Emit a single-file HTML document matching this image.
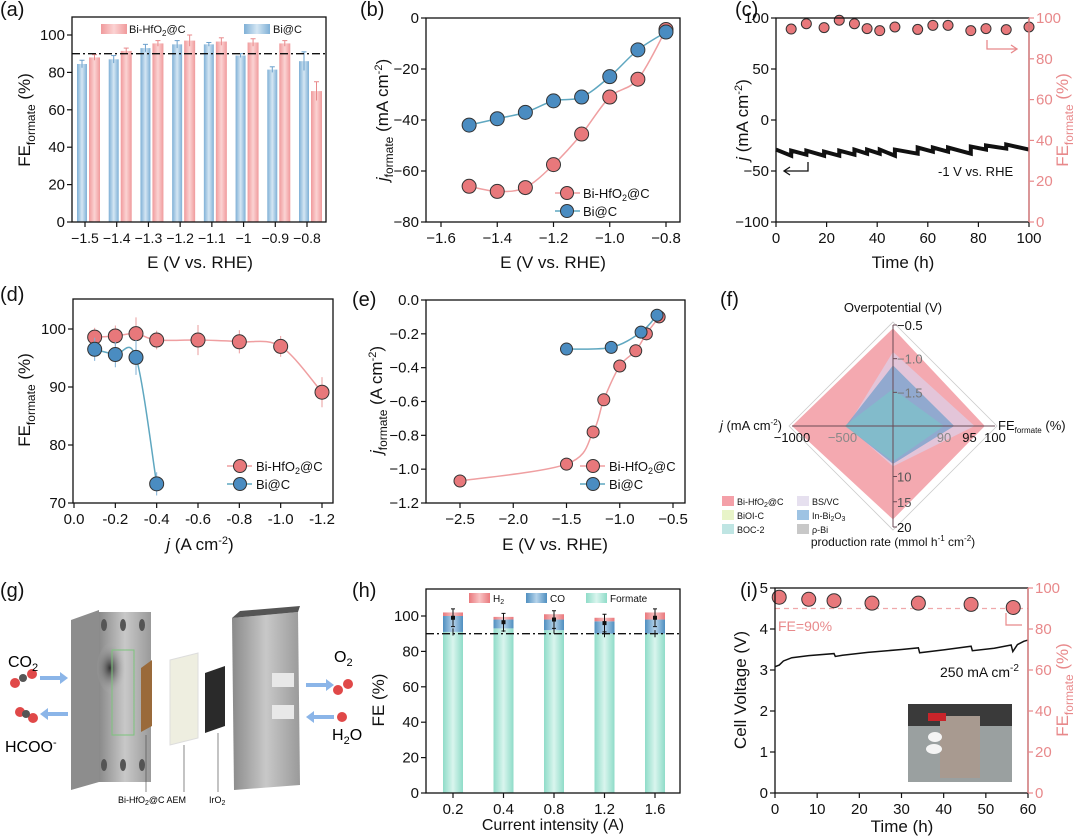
<!DOCTYPE html>
<html><head><meta charset="utf-8"><style>
html,body{margin:0;padding:0;background:#fff;}
svg{display:block;font-family:"Liberation Sans",Arial,sans-serif;}
</style></head><body>
<svg id="fig" width="1080" height="840" viewBox="0 0 1080 840" xmlns="http://www.w3.org/2000/svg">
<defs>
<linearGradient id="gp" x1="0" x2="1"><stop offset="0" stop-color="#f09a9c"/><stop offset="0.5" stop-color="#fbd3d3"/><stop offset="1" stop-color="#f09a9c"/></linearGradient>
<linearGradient id="gb" x1="0" x2="1"><stop offset="0" stop-color="#7fb0d6"/><stop offset="0.5" stop-color="#d4e6f3"/><stop offset="1" stop-color="#7fb0d6"/></linearGradient>
<linearGradient id="gt" x1="0" x2="1"><stop offset="0" stop-color="#8fdcc8"/><stop offset="0.5" stop-color="#d9f5ee"/><stop offset="1" stop-color="#8fdcc8"/></linearGradient>
<linearGradient id="gco" x1="0" x2="1"><stop offset="0" stop-color="#4f8fc0"/><stop offset="0.5" stop-color="#b5d3ea"/><stop offset="1" stop-color="#4f8fc0"/></linearGradient>
<linearGradient id="gh2" x1="0" x2="1"><stop offset="0" stop-color="#e9787c"/><stop offset="0.5" stop-color="#f8c3c4"/><stop offset="1" stop-color="#e9787c"/></linearGradient>
<linearGradient id="plate" x1="0" x2="1"><stop offset="0" stop-color="#8a8a8a"/><stop offset="0.5" stop-color="#c8c8c8"/><stop offset="1" stop-color="#9a9a9a"/></linearGradient>
<radialGradient id="dark" cx="0.4" cy="0.5" r="0.5"><stop offset="0" stop-color="#333"/><stop offset="1" stop-color="#bbb" stop-opacity="0"/></radialGradient>
</defs>

<g>
<polygon points="71,620 99,610 99,782 71,790" fill="#8d8d8d"/>
<rect x="99" y="612" width="52" height="170" fill="url(#plate)"/>
<ellipse cx="113" cy="668" rx="16" ry="26" fill="url(#dark)"/>
<rect x="112" y="650" width="22" height="85" fill="none" stroke="#7cc47c" stroke-width="1"/>
<g fill="#555"><ellipse cx="104" cy="625" rx="3" ry="6"/><ellipse cx="123" cy="625" rx="3" ry="6"/><ellipse cx="142" cy="625" rx="3" ry="6"/><ellipse cx="104" cy="765" rx="3" ry="6"/><ellipse cx="123" cy="765" rx="3" ry="6"/><ellipse cx="142" cy="765" rx="3" ry="6"/></g>
<polygon points="141,668 152,660 152,726 141,732" fill="#9a6a3a"/>
<polygon points="170,660 198,653 198,738 170,745" fill="#eeeee0" stroke="#ddd"/>
<polygon points="205,673 225,666 225,726 205,733" fill="#2a2a2a"/>
<polygon points="232,618 298,612 300,785 234,790" fill="url(#plate)"/>
<polygon points="232,618 240,611 300,606 298,612" fill="#555"/>
<rect x="272" y="673" width="22" height="14" fill="#e8e8e8"/><rect x="272" y="705" width="22" height="14" fill="#e8e8e8"/>
<g fill="#e04848"><circle cx="15" cy="683" r="5"/><circle cx="32" cy="674" r="5"/><circle cx="20" cy="712" r="5"/><circle cx="33" cy="718" r="5"/><circle cx="338" cy="690" r="5"/><circle cx="348" cy="684" r="5"/><circle cx="342" cy="717" r="5"/></g>
<g fill="#555"><circle cx="23" cy="678" r="4"/><circle cx="26" cy="714" r="4"/></g>
<g fill="#8bb5e8"><polygon points="40,676 60,676 60,672 68,678 60,684 60,680 40,680"/><polygon points="68,712 48,712 48,708 40,714 48,720 48,716 68,716"/><polygon points="306,683 326,683 326,679 334,685 326,691 326,687 306,687"/><polygon points="334,715 314,715 314,711 306,717 314,723 314,719 334,719"/></g>
<line x1="146" y1="735" x2="146" y2="792" stroke="#555" stroke-width="0.7"/><line x1="184" y1="745" x2="184" y2="792" stroke="#555" stroke-width="0.7"/><line x1="218" y1="733" x2="218" y2="792" stroke="#555" stroke-width="0.7"/>
<text x="8" y="667" font-size="16">CO<tspan font-size="11" dy="4">2</tspan></text>
<text x="5" y="752" font-size="16">HCOO<tspan font-size="11" dy="-6">-</tspan></text>
<text x="334" y="662" font-size="16">O<tspan font-size="11" dy="4">2</tspan></text>
<text x="332" y="740" font-size="16">H<tspan font-size="11" dy="4">2</tspan><tspan dy="-4">O</tspan></text>
<text x="118" y="803" font-size="9">Bi-HfO<tspan font-size="7" dy="2">2</tspan><tspan dy="-2">@C AEM</tspan></text>
<text x="209" y="803" font-size="9">IrO<tspan font-size="7" dy="2">2</tspan></text>
</g>
<g>
<rect x="908" y="704" width="104" height="78" fill="#9aa0a0"/>
<rect x="908" y="704" width="104" height="22" fill="#3a3a3a"/>
<rect x="940" y="716" width="40" height="62" fill="#a89a90"/>
<rect x="928" y="713" width="18" height="8" fill="#c8242a"/>
<ellipse cx="935" cy="737" rx="7" ry="5" fill="#f4f4f4"/><ellipse cx="934" cy="749" rx="8" ry="5" fill="#f4f4f4"/>
</g>
</svg>
<script>
const NS="http://www.w3.org/2000/svg";
const svg=document.getElementById('fig');
function mk(tag,attrs,parent){const e=document.createElementNS(NS,tag);for(const k in attrs)e.setAttribute(k,attrs[k]);(parent||svg).appendChild(e);return e;}
function lin(d0,d1,p0,p1){return v=>p0+(v-d0)*(p1-p0)/(d1-d0);}
function txt(x,y,s,size,anchor,parent,fill){const t=mk('text',{x:x,y:y,'font-size':size||15,'text-anchor':anchor||'middle',fill:fill||'#111'},parent);t.innerHTML=s;return t;}
function smooth(pts){let d='M'+pts[0][0]+','+pts[0][1];for(let i=0;i<pts.length-1;i++){const p0=pts[i-1]||pts[i],p1=pts[i],p2=pts[i+1],p3=pts[i+2]||p2;const c1=[p1[0]+(p2[0]-p0[0])/6,p1[1]+(p2[1]-p0[1])/6],c2=[p2[0]-(p3[0]-p1[0])/6,p2[1]-(p3[1]-p1[1])/6];d+=' C'+c1+' '+c2+' '+p2;}return d;}
function frame(g,b){const r=mk('rect',{x:b.x0,y:b.y0,width:b.x1-b.x0,height:b.y1-b.y0,fill:'none',stroke:'#111','stroke-width':1.3},g);}
function xTicks(g,b,vals,labels,sx,size){vals.forEach((v,i)=>{const X=sx(v);mk('line',{x1:X,x2:X,y1:b.y1,y2:b.y1+5,stroke:'#111','stroke-width':1.2},g);const t=txt(X,b.y1+21,labels[i],size||15,'middle',g);});}
function yTicks(g,b,vals,labels,sy,right,col,size){vals.forEach((v,i)=>{const Y=sy(v);const X=right?b.x1:b.x0;mk('line',{x1:X,x2:right?X+5:X-5,y1:Y,y2:Y,stroke:col||'#111','stroke-width':1.2},g);const t=txt(right?X+7:X-7,Y+5,labels[i],size||15,right?'start':'end',g,col);});}
function vtitle(g,x,y,html,col,size){const t=mk('text',{x:0,y:0,'font-size':size||17,'text-anchor':'middle',fill:col||'#111',transform:'translate('+x+','+y+') rotate(-90)'},g);t.innerHTML=html;return t;}
function dot(g,x,y,fill,r){const c=mk('circle',{cx:x,cy:y,r:r||7,fill:fill,stroke:'#333','stroke-width':1},g);return c;}
const PINK='#e8787b',BLUE='#4a8cc1',PL='#ef9fa1',BL='#5fa7c0',RA='#e8898b';
const FEsub='FE<tspan font-size="12" dy="5">formate</tspan><tspan dy="-5"> (%)</tspan>';
function label(s,x,y){const t=txt(x,y,s,20,'start');}

const aCats=['−1.5','−1.4','−1.3','−1.2','−1.1','−1','−0.9','−0.8'];
const aBi=[84.5,87,93,95,95,89,81.5,86];
const aBiErr=[2,2,2,2,1,1,1.5,5];
const aHf=[88,91.5,95.5,97,96.5,96,95.5,70];
const aHfErr=[1.5,1.5,1.5,3,2,2,1.5,5];
const aYt=[0,20,40,60,80,100];
const bE=[-1.5,-1.4,-1.3,-1.2,-1.1,-1.0,-0.9,-0.8];
const bHf=[-66,-68,-66.5,-57.5,-45.5,-31,-24,-4.5];
const bBi=[-42,-39.5,-37,-32.5,-31,-23,-12.5,-5.5];
const bXt=[-1.6,-1.4,-1.2,-1.0,-0.8];const bXl=['−1.6','−1.4','−1.2','−1.0','−0.8'];
const bYt=[0,-20,-40,-60,-80];const bYl=['0','−20','−40','−60','−80'];
const cFEt=[6,12,19,25,31,36,41,47,56,62,68,77,83,91,100];
const cFE=[94.6,97.2,95.3,98.9,97.2,94.8,93.8,95.6,94.4,96.4,96.4,93.8,94.8,94.3,95.6];
const cSegT=[0,6,12,19,25,31,36,41,47,56,62,68,77,83,91,100];
const cSegStart=[-29,-30,-30,-31,-30,-29,-29,-29,-29,-27,-27,-27,-26,-25,-24];
const cSegEnd=[-35,-34,-35,-35,-34,-33,-33,-35,-33,-31,-31,-33,-29,-28,-29];
const dJHf=[0.1,0.2,0.3,0.4,0.6,0.8,1.0,1.2];
const dHf=[98.6,98.8,99.2,98.1,98.1,97.8,97,89.1];
const dHfErr=[1.6,1.8,2.8,1.6,2.6,2,1.8,2.6];
const dJBi=[0.1,0.2,0.3,0.4];
const dBi=[96.5,95.6,95.1,73.3];
const dBiErr=[2,2.2,3,2];
const eEHf=[-2.5,-1.5,-1.25,-1.15,-1.0,-0.85,-0.75,-0.63];
const eHf=[-1.07,-0.97,-0.78,-0.59,-0.39,-0.30,-0.20,-0.10];
const eEBi=[-1.5,-1.08,-0.8,-0.65];
const eBi=[-0.29,-0.28,-0.19,-0.09];
const fSeries=['Bi-HfO2@C','BS/VC','In-Bi2O3','BOC-2'];
const fOver=[-0.55,-0.9,-1.1,-1.45];
const fFE=[98,96,92,90];
const fRate=[18.5,8,7.5,7];
const fJ=[-1000,-450,-470,-480];
const hCats=['0.2','0.4','0.8','1.2','1.6'];
const hFormate=[91,93,92,90,90];
const hCO=[9,5,6,7,8];
const hH2=[2,1.5,3,2,4];
const iT=[0,1,2,4,8,14,14.3,16,22,30,34,34.3,40,46.5,46.8,52,56,56.4,57.5,59,60];
const iV=[3.08,3.12,3.22,3.3,3.35,3.4,3.33,3.36,3.43,3.5,3.54,3.42,3.49,3.58,3.47,3.53,3.61,3.45,3.62,3.7,3.73];
const iFEt=[1,8,14,23,34,46.5,56.5];
const iFE=[95.5,94.5,93.8,92.6,92.6,92,90.5];

// Panel a
(function(){
const g=mk('g',{});
const b={x0:72,x1:326,y0:17,y1:222};
const sy=lin(0,100,222,35);const sx=i=>88+i*(310-88)/7;
label('(a)',0,16);
aCats.forEach((c,i)=>{
 const X=sx(i);
 const r1=mk('rect',{x:X-11,y:sy(aBi[i]),width:10,height:sy(0)-sy(aBi[i]),fill:'url(#gb)'},g);
 
 mk('line',{x1:X-6,x2:X-6,y1:sy(aBi[i]+aBiErr[i]),y2:sy(aBi[i]-aBiErr[i]),stroke:'#6ba0cc','stroke-width':1},g);
 mk('line',{x1:X-8.5,x2:X-3.5,y1:sy(aBi[i]+aBiErr[i]),y2:sy(aBi[i]+aBiErr[i]),stroke:'#6ba0cc'},g);
 const r2=mk('rect',{x:X+1,y:sy(aHf[i]),width:11,height:sy(0)-sy(aHf[i]),fill:'url(#gp)'},g);
 
 mk('line',{x1:X+6.5,x2:X+6.5,y1:sy(aHf[i]+aHfErr[i]),y2:sy(aHf[i]-aHfErr[i]),stroke:'#e8898b','stroke-width':1},g);
 mk('line',{x1:X+4,x2:X+9,y1:sy(aHf[i]+aHfErr[i]),y2:sy(aHf[i]+aHfErr[i]),stroke:'#e8898b'},g);
});
const l=mk('line',{x1:b.x0,x2:b.x1,y1:sy(90),y2:sy(90),stroke:'#111','stroke-width':1.3,'stroke-dasharray':'8,3,2,3'},g);

frame(g,b);
xTicks(g,b,aCats.map((c,i)=>i),aCats,i=>sx(i)-3,14);
yTicks(g,b,aYt,aYt.map(String),sy);
vtitle(g,30,120,FEsub);
const xt=txt(200,268,'E (V vs. RHE)',17);
const lg1=mk('rect',{x:101,y:24,width:26,height:10,fill:'url(#gp)'},g);
const lt1=txt(129,33,'Bi-HfO<tspan font-size="8" dy="3">2</tspan><tspan dy="-3">@C</tspan>',11,'start',g);
const lg2=mk('rect',{x:244,y:24,width:26,height:10,fill:'url(#gb)'},g);
const lt2=txt(273,33,'Bi@C',11,'start',g);
})();

// Panel b
(function(){
const g=mk('g',{});
const b={x0:426,x1:680,y0:18,y1:222};
const sx=lin(-1.6,-0.8,441,666),sy=lin(0,-80,18,222);
label('(b)',360,16);
const ph=mk('path',{d:smooth(bE.map((e,i)=>[sx(e),sy(bHf[i])])),fill:'none',stroke:PL,'stroke-width':1.5},g);
const pb=mk('path',{d:smooth(bE.map((e,i)=>[sx(e),sy(bBi[i])])),fill:'none',stroke:BL,'stroke-width':1.5},g);
bE.forEach((e,i)=>{const c=dot(g,sx(e),sy(bHf[i]),PINK);
 const d=dot(g,sx(e),sy(bBi[i]),BLUE);});
frame(g,b);xTicks(g,b,bXt,bXl,sx);yTicks(g,b,bYt,bYl,sy);
vtitle(g,388,120,'<tspan font-style="italic">j</tspan><tspan font-size="12" dy="5">formate</tspan><tspan dy="-5"> (mA cm</tspan><tspan font-size="11" dy="-6">-2</tspan><tspan dy="6">)</tspan>');
const xt=txt(553,268,'E (V vs. RHE)',17);
mk('line',{x1:555,x2:580,y1:193,y2:193,stroke:PL,'stroke-width':1.5},g);const l1=dot(g,567,193,PINK,6.5);
const t1=txt(583,198,'Bi-HfO<tspan font-size="9" dy="3">2</tspan><tspan dy="-3">@C</tspan>',13,'start',g);
mk('line',{x1:555,x2:580,y1:211,y2:211,stroke:BL,'stroke-width':1.5},g);const l2=dot(g,567,211,BLUE,6.5);
const t2=txt(583,216,'Bi@C',13,'start',g);
})();

// Panel c
(function(){
const g=mk('g',{});
const b={x0:776,x1:1029,y0:18,y1:222};
const sx=lin(0,100,776,1029),sl=lin(-100,100,222,18),sr=lin(0,100,222,18);
label('(c)',735,16);
let d='';
cSegStart.forEach((s,i)=>{const t0=cSegT[i],t1=cSegT[i+1];d+=(i?' L':'M')+sx(t0)+','+sl(s)+' L'+sx(t1)+','+sl(cSegEnd[i]);});
const p=mk('path',{d:d,fill:'none',stroke:'#111','stroke-width':4,'stroke-linejoin':'miter'},g);
cFEt.forEach((t,i)=>{const c=dot(g,sx(t),sr(cFE[i]),PINK,5);});
frame(g,b);
mk('line',{x1:b.x1,x2:b.x1,y1:b.y0,y2:b.y1,stroke:RA,'stroke-width':1.4},g);
xTicks(g,b,[0,20,40,60,80,100],['0','20','40','60','80','100'],sx);
yTicks(g,b,[100,50,0,-50,-100],['100','50','0','−50','−100'],sl);
yTicks(g,b,[0,20,40,60,80,100],['0','20','40','60','80','100'],sr,true,RA);
vtitle(g,748,120,'<tspan font-style="italic">j</tspan> (mA cm<tspan font-size="11" dy="-6">-2</tspan><tspan dy="6">)</tspan>');
vtitle(g,1068,120,FEsub,RA);
const xt=txt(903,268,'Time (h)',17);
const an=txt(938,176,'-1 V vs. RHE',13,'start',g);
mk('path',{d:'M808,162 L808,171 L784,171 M790,167 L784,171 L790,175',fill:'none',stroke:'#111','stroke-width':1.3},g);
mk('path',{d:'M987,40 L987,49 L1017,49 M1011,45 L1017,49 L1011,53',fill:'none',stroke:RA,'stroke-width':1.3},g);
})();

// Panel d
(function(){
const g=mk('g',{});
const b={x0:73,x1:333,y0:299,y1:503};
const sx=lin(0,1.2,74,322),sy=lin(100,70,329,503);
label('(d)',0,301);
const ph=mk('path',{d:smooth(dJHf.map((j,i)=>[sx(j),sy(dHf[i])])),fill:'none',stroke:PL,'stroke-width':1.5},g);
const pb=mk('path',{d:smooth(dJBi.map((j,i)=>[sx(j),sy(dBi[i])])),fill:'none',stroke:BL,'stroke-width':1.5},g);
dJHf.forEach((j,i)=>{mk('line',{x1:sx(j),x2:sx(j),y1:sy(dHf[i]+dHfErr[i]),y2:sy(dHf[i]-dHfErr[i]),stroke:'#ea9c9e'},g);
 const c=dot(g,sx(j),sy(dHf[i]),PINK);});
dJBi.forEach((j,i)=>{mk('line',{x1:sx(j),x2:sx(j),y1:sy(dBi[i]+dBiErr[i]),y2:sy(dBi[i]-dBiErr[i]),stroke:'#7fb0d6'},g);
 const c=dot(g,sx(j),sy(dBi[i]),BLUE);});
frame(g,b);
xTicks(g,b,[0,0.2,0.4,0.6,0.8,1.0,1.2],['0.0','-0.2','-0.4','-0.6','-0.8','-1.0','-1.2'],sx);
yTicks(g,b,[70,80,90,100],['70','80','90','100'],sy);
vtitle(g,30,400,FEsub);
const xt=txt(200,550,'<tspan font-style="italic">j</tspan> (A cm<tspan font-size="11" dy="-6">-2</tspan><tspan dy="6">)</tspan>',17);
mk('line',{x1:227,x2:252,y1:466,y2:466,stroke:PL,'stroke-width':1.5},g);const l1=dot(g,240,466,PINK,6.5);
const t1=txt(256,471,'Bi-HfO<tspan font-size="9" dy="3">2</tspan><tspan dy="-3">@C</tspan>',13,'start',g);
mk('line',{x1:227,x2:252,y1:484,y2:484,stroke:BL,'stroke-width':1.5},g);const l2=dot(g,240,484,BLUE,6.5);
const t2=txt(256,489,'Bi@C',13,'start',g);
})();

// Panel e
(function(){
const g=mk('g',{});
const b={x0:426,x1:685,y0:300,y1:503};
const sx=lin(-2.5,-0.5,460,673),sy=lin(0,-1.2,300,503);
label('(e)',352,306);
const ph=mk('path',{d:smooth(eEHf.map((e,i)=>[sx(e),sy(eHf[i])])),fill:'none',stroke:PL,'stroke-width':1.5},g);
const pb=mk('path',{d:smooth(eEBi.map((e,i)=>[sx(e),sy(eBi[i])])),fill:'none',stroke:BL,'stroke-width':1.5},g);
eEHf.forEach((e,i)=>{const c=dot(g,sx(e),sy(eHf[i]),PINK,6);});
eEBi.forEach((e,i)=>{const c=dot(g,sx(e),sy(eBi[i]),BLUE,6);});
frame(g,b);
xTicks(g,b,[-2.5,-2.0,-1.5,-1.0,-0.5],['−2.5','−2.0','−1.5','−1.0','−0.5'],sx);
yTicks(g,b,[0,-0.2,-0.4,-0.6,-0.8,-1.0,-1.2],['0.0','−0.2','−0.4','−0.6','−0.8','−1.0','−1.2'],sy);
vtitle(g,382,400,'<tspan font-style="italic">j</tspan><tspan font-size="12" dy="5">formate</tspan><tspan dy="-5"> (A cm</tspan><tspan font-size="11" dy="-6">-2</tspan><tspan dy="6">)</tspan>');
const xt=txt(555,550,'E (V vs. RHE)',17);
mk('line',{x1:580,x2:605,y1:466,y2:466,stroke:PL,'stroke-width':1.5},g);const l1=dot(g,593,466,PINK,6.5);
const t1=txt(609,471,'Bi-HfO<tspan font-size="9" dy="3">2</tspan><tspan dy="-3">@C</tspan>',13,'start',g);
mk('line',{x1:580,x2:605,y1:484,y2:484,stroke:BL,'stroke-width':1.5},g);const l2=dot(g,593,484,BLUE,6.5);
const t2=txt(609,489,'Bi@C',13,'start',g);
})();

// Panel f
(function(){
const g=mk('g',{});
const cx=893,cy=426;
label('(f)',720,306);
const sTop=lin(-2.0,-0.5,0,101),sR=lin(80,100,0,102),sB=lin(0,20,0,101),sL=lin(0,-1000,0,101);
mk('polygon',{points:[[cx,cy-104],[cx+104,cy],[cx,cy+104],[cx-104,cy]].join(' '),fill:'none',stroke:'#ccc','stroke-width':0.8},g);
const cols=['rgba(240,140,150,0.75)','rgba(220,210,235,0.7)','rgba(90,150,200,0.6)','rgba(120,200,200,0.6)'];
fSeries.forEach((s,i)=>{const pts=[[cx,cy-sTop(fOver[i])],[cx+sR(fFE[i]),cy],[cx,cy+sB(fRate[i])],[cx-sL(fJ[i]),cy]];
 const p=mk('polygon',{points:pts.join(' '),fill:cols[i]},g);});
mk('path',{d:`M${cx-101},${cy} L${cx+102},${cy} M${cx},${cy-101} L${cx},${cy+101}`,stroke:'#6a4a55','stroke-width':1},g);
[[-0.5,'−0.5'],[-1.0,'−1.0'],[-1.5,'−1.5']].forEach(a=>{const Y=cy-sTop(a[0]);mk('line',{x1:cx,x2:cx+4,y1:Y,y2:Y,stroke:'#6a4a55'},g);const t=txt(cx+4,Y+5,a[1],13,'start',g,a[0]===-0.5?'#111':'#777');});
[[10,'10'],[15,'15'],[20,'20']].forEach(a=>{const Y=cy+sB(a[0]);mk('line',{x1:cx,x2:cx+4,y1:Y,y2:Y,stroke:'#6a4a55'},g);const t=txt(cx+4,Y+5,a[1],13,'start',g,a[0]===20?'#111':'#555');});
[[-1000,'−1000'],[-500,'−500']].forEach(a=>{const X=cx-sL(a[0]);const t=txt(X,cy+16,a[1],13,'middle',g,a[0]===-500?'#888':'#111');});
[[90,'90'],[95,'95'],[100,'100']].forEach(a=>{const X=cx+sR(a[0]);const t=txt(X,cy+16,a[1],13,'middle',g,a[0]===90?'#888':'#111');});
const t1=txt(cx,312,'Overpotential (V)',13,'middle',g);
const t2=txt(998,430,'FE<tspan font-size="8" dy="3">formate</tspan><tspan dy="-3"> (%)</tspan>',13,'start',g);
const t3=txt(782,430,'<tspan font-style="italic">j</tspan> (mA cm<tspan font-size="8" dy="-5">-2</tspan><tspan dy="5">)</tspan>',13,'end',g);
const t4=txt(893,546,'production rate (mmol h<tspan font-size="8" dy="-5">-1</tspan><tspan dy="5"> cm</tspan><tspan font-size="8" dy="-5">-2</tspan><tspan dy="5">)</tspan>',12,'middle',g);
const leg=[['Bi-HfO<tspan font-size="7" dy="2">2</tspan><tspan dy="-2">@C</tspan>','#f4a0a8',722,502],['BiOI-C','#e8f4c8',722,516],['BOC-2','#bfe5e3',722,530],['BS/VC','#e6e0ef',797,502],['In-Bi<tspan font-size="7" dy="2">2</tspan><tspan dy="-2">O</tspan><tspan font-size="7" dy="2">3</tspan>','#9ec3e3',797,516],['ρ-Bi','#c8c8c8',797,530]];
leg.forEach(l=>{const r=mk('rect',{x:l[2],y:l[3]-6,width:12,height:10,fill:l[1]},g);const t=txt(l[2]+15,l[3]+3,l[0],9,'start',g);});
})();

label('(g)',0,597);

// Panel h
(function(){
const g=mk('g',{});
const b={x0:426,x1:680,y0:589,y1:793};
const sy=lin(0,100,793,616);const sx=i=>453+i*50.5;
label('(h)',352,597);
hCats.forEach((c,i)=>{const X=sx(i),w=20;
 const r1=mk('rect',{x:X-w/2,y:sy(hFormate[i]),width:w,height:sy(0)-sy(hFormate[i]),fill:'url(#gt)'},g);
 const r2=mk('rect',{x:X-w/2,y:sy(hFormate[i]+hCO[i]),width:w,height:sy(hFormate[i])-sy(hFormate[i]+hCO[i]),fill:'url(#gco)'},g);
 const top=hFormate[i]+hCO[i]+hH2[i];
 const r3=mk('rect',{x:X-w/2,y:sy(top),width:w,height:sy(hFormate[i]+hCO[i])-sy(top),fill:'url(#gh2)'},g);
 mk('path',{d:`M${X},${sy(top+2)} V${sy(top-8)} M${X-2},${sy(top+2)} H${X+2} M${X-2},${sy(top-8)} H${X+2} M${X},${sy(hFormate[i]+2)} V${sy(hFormate[i]-2)}`,stroke:'#111','stroke-width':1},g);
 mk('rect',{x:X-2,y:sy(top-3)-2,width:4,height:4,fill:'#111'},g);
});
const l=mk('line',{x1:b.x0,x2:b.x1,y1:sy(90),y2:sy(90),stroke:'#111','stroke-width':1.3,'stroke-dasharray':'8,3,2,3'},g);
frame(g,b);
xTicks(g,b,[0,1,2,3,4],hCats,sx);
yTicks(g,b,[0,20,40,60,80,100],['0','20','40','60','80','100'],sy);
vtitle(g,384,700,'FE (%)');
const xt=txt(553,830,'Current intensity (A)',16);
[['H<tspan font-size="7" dy="2">2</tspan>','url(#gh2)',469],['CO','url(#gco)',526],['Formate','url(#gt)',586]].forEach(e=>{const r=mk('rect',{x:e[2],y:593,width:21,height:10,fill:e[1]},g);const t=txt(e[2]+24,602,e[0],10,'start',g);});
})();

// Panel i
(function(){
const g=mk('g',{});
const b={x0:775,x1:1028,y0:588,y1:793};
const sx=lin(0,60,775,1028),sl=lin(0,5,793,588),sr=lin(0,100,793,588);
label('(i)',740,597);
const dl=mk('line',{x1:b.x0,x2:b.x1,y1:sr(90),y2:sr(90),stroke:'#f0a8aa','stroke-width':1.3,'stroke-dasharray':'5,4'},g);
const ft=txt(778,631,'FE=90%',14,'start',g,RA);
const p=mk('path',{d:'M'+iT.map((t,i)=>sx(t)+','+sl(iV[i])).join(' L'),fill:'none',stroke:'#111','stroke-width':1.5},g);
iFEt.forEach((t,i)=>{const c=dot(g,sx(t),sr(iFE[i]),PINK,7);});
frame(g,b);
mk('line',{x1:b.x1,x2:b.x1,y1:b.y0,y2:b.y1,stroke:RA,'stroke-width':1.4},g);
xTicks(g,b,[0,10,20,30,40,50,60],['0','10','20','30','40','50','60'],sx);
yTicks(g,b,[0,1,2,3,4,5],['0','1','2','3','4','5'],sl);
yTicks(g,b,[0,20,40,60,80,100],['0','20','40','60','80','100'],sr,true,RA);
vtitle(g,746,690,'Cell Voltage (V)');
vtitle(g,1068,690,FEsub,RA);
const xt=txt(902,832,'Time (h)',17);
const an=txt(940,677,'250 mA cm<tspan font-size="10" dy="-6">-2</tspan>',14,'start',g);
mk('path',{d:'M1006,613 L1006,625 L1022,625',fill:'none',stroke:RA,'stroke-width':1.2},g);
})();
</script>
</body></html>
